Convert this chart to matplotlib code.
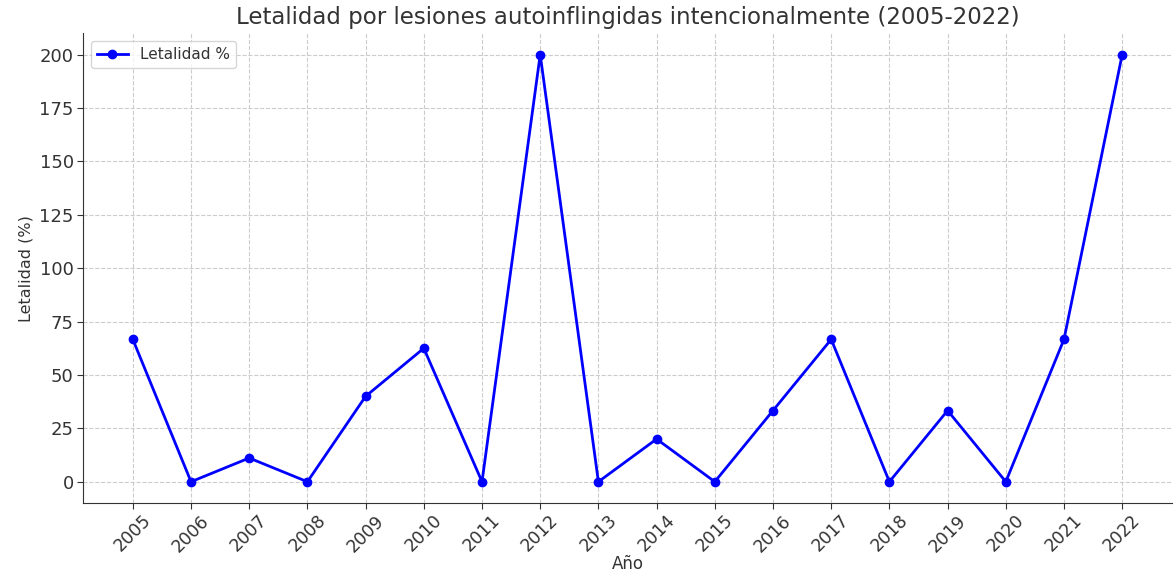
import matplotlib
matplotlib.use("Agg")
import matplotlib.pyplot as plt

years = [2005, 2006, 2007, 2008, 2009, 2010, 2011, 2012, 2013,
         2014, 2015, 2016, 2017, 2018, 2019, 2020, 2021, 2022]
letalidad = [66.67, 0, 11.11, 0, 40, 62.5, 0, 200, 0,
             20, 0, 33.33, 66.67, 0, 33.33, 0, 66.67, 200]

plt.rcParams['font.family'] = ['DejaVu Sans']
text_color = '#333333'

fig, ax = plt.subplots(figsize=(11.74, 5.73), dpi=100)
ax.plot(years, letalidad, color='blue', marker='o', markersize=6,
        linewidth=2, label='Letalidad %')

ax.set_title('Letalidad por lesiones autoinflingidas intencionalmente (2005-2022)',
             fontsize=16.5, color=text_color, pad=7)
ax.set_xlabel('Año', fontsize=12, color=text_color, labelpad=0)
ax.set_ylabel('Letalidad (%)', fontsize=11.5, color=text_color)
ax.set_xticks(years)
ax.set_xticklabels([str(y) for y in years], rotation=45, fontsize=12.5)
ax.set_yticks([0, 25, 50, 75, 100, 125, 150, 175, 200])
ax.tick_params(axis='y', labelsize=13, pad=3)
ax.tick_params(axis='x', pad=2)
ax.tick_params(axis='both', labelcolor=text_color, color=text_color, length=4)
ax.grid(True, linestyle='--', color='#cccccc', linewidth=0.8)
ax.spines['top'].set_visible(False)
ax.spines['right'].set_visible(False)
ax.spines['left'].set_color(text_color)
ax.spines['bottom'].set_color(text_color)
leg = ax.legend(loc='upper left', fontsize=11)
for t in leg.get_texts():
    t.set_color(text_color)

plt.subplots_adjust(left=0.071, right=0.998, top=0.942, bottom=0.122)
fig.savefig('out.png', dpi=100)
